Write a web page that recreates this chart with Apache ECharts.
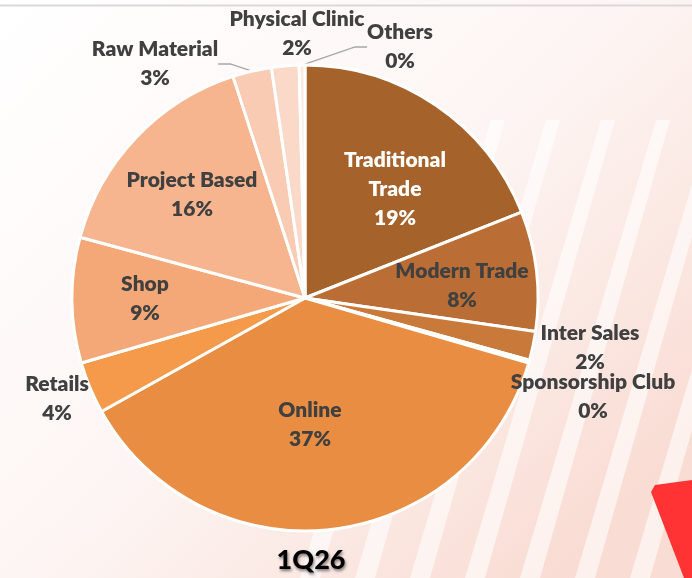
<!DOCTYPE html>
<html>
<head>
<meta charset="utf-8">
<script src="https://cdn.jsdelivr.net/npm/echarts@6/dist/echarts.min.js"></script>
<style>
  html, body { margin: 0; padding: 0; background: #fff; }
  #main { width: 692px; height: 578px; }
</style>
</head>
<body>
<div id="main"></div>
<script>
// 渠道名称（顺时针，从12点钟方向开始）
const channels = [
  "Traditional Trade", "Modern Trade", "Inter Sales", "Sponsorship Club",
  "Online", "Retails", "Shop", "Project Based", "Raw Material",
  "Physical Clinic", "Others"
];
// 占比数值
const shares = [19.0, 8.3, 2.0, 0.2, 37.4, 3.6, 8.7, 15.8, 2.7, 1.9, 0.4];
// 扇区颜色
const sliceColors = [
  "#a5622b", "#ba6d34", "#c97a3b", "#d8823e", "#e98d42", "#f59a4a",
  "#f4a877", "#f6b58e", "#f9cbb2", "#fbd9c9", "#fde9df"
];
const periodLabel = "1Q26";

// 标签放置位置（标签中心，像素）
const labelSpots = {
  "Traditional Trade": [395, 189],
  "Modern Trade": [462, 286],
  "Inter Sales": [590, 348],
  "Sponsorship Club": [593, 397],
  "Online": [310, 425],
  "Retails": [57, 399],
  "Shop": [145, 299],
  "Project Based": [192, 195],
  "Raw Material": [155, 64],
  "Physical Clinic": [297, 34],
  "Others": [400, 47]
};
const outsideNames = ["Inter Sales", "Sponsorship Club", "Retails", "Raw Material", "Physical Clinic", "Others"];
const leaderNames = ["Raw Material", "Others"];

const total = shares.reduce((a, b) => a + b, 0);

const pieData = channels.map((name, i) => {
  const outside = outsideNames.indexOf(name) >= 0;
  return {
    name: name,
    value: shares[i],
    itemStyle: { color: sliceColors[i] },
    label: {
      position: outside ? "outside" : "inside",
      color: name === "Traditional Trade" ? "#ffffff" : "#404040"
    },
    labelLine: {
      show: leaderNames.indexOf(name) >= 0,
      lineStyle: { color: "#a6a6a6", width: 1.3 }
    }
  };
});

const chart = echarts.init(document.getElementById("main"));

// 背景：浅粉色斜条纹
const bgStripes = [];
for (let k = 0; k < 9; k++) {
  const x0 = 300 + k * 55;
  bgStripes.push({
    type: "polygon",
    silent: true,
    z: -10,
    shape: { points: [[x0, 578], [x0 + 20, 578], [x0 + 150, 120], [x0 + 136, 120]] },
    style: { fill: "rgba(255,255,255,0.6)" }
  });
}

chart.setOption({
  backgroundColor: {
    type: "linear", x: 0, y: 0, x2: 0.8, y2: 1,
    colorStops: [
      { offset: 0, color: "#ffffff" },
      { offset: 0.55, color: "#fdf5f3" },
      { offset: 1, color: "#f9dcd3" }
    ]
  },
  animation: false,
  textStyle: { fontFamily: "Lato, 'Open Sans', sans-serif" },
  title: {
    text: periodLabel,
    left: 306,
    top: 542,
    textAlign: "center",
    textStyle: {
      fontSize: 27,
      fontWeight: 900,
      color: "#000",
      fontFamily: "Lato, sans-serif",
      textShadowColor: "rgba(0,0,0,0.5)",
      textShadowBlur: 3,
      textShadowOffsetX: 1,
      textShadowOffsetY: 2
    }
  },
  graphic: bgStripes.concat([
    {
      type: "line",
      silent: true,
      shape: { x1: 0, y1: 5.5, x2: 692, y2: 5.5 },
      style: { stroke: "#d9d9d9", lineWidth: 2 }
    },
    {
      type: "polygon",
      silent: true,
      shape: { points: [[655, 485], [692, 480], [692, 578], [684, 578], [651, 492]] },
      style: { fill: "#ff3333" }
    }
  ]),
  series: [
    {
      type: "pie",
      center: [305, 298],
      radius: 233,
      startAngle: 90,
      clockwise: true,
      avoidLabelOverlap: false,
      data: pieData,
      itemStyle: { borderColor: "#ffffff", borderWidth: 3 },
      label: {
        show: true,
        fontSize: 21,
        fontWeight: 800,
        lineHeight: 29,
        formatter: (p) => {
          const nm = p.name === "Traditional Trade" ? "Traditional\nTrade" : p.name;
          return nm + "\n" + Math.round(p.value / total * 100) + "%";
        }
      },
      labelLine: { length: 10, length2: 12, smooth: false },
      labelLayout: (params) => {
        const spot = labelSpots[channels[params.dataIndex]];
        return { x: spot[0], y: spot[1], align: "center", verticalAlign: "middle" };
      }
    }
  ]
});
</script>
</body>
</html>
